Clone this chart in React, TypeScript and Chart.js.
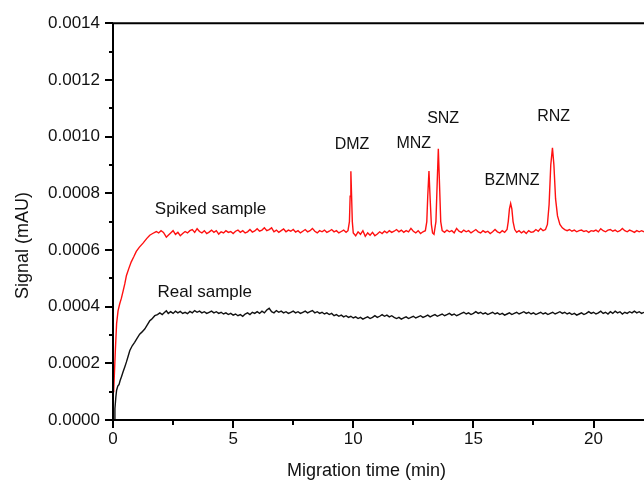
import { useEffect, useRef } from 'react';
import { Chart, registerables } from 'chart.js';

Chart.register(...registerables);

const FONT = '"Liberation Sans", Arial, Helvetica, sans-serif';

const xAxisTitle = 'Migration time (min)';
const yAxisTitle = 'Signal (mAU)';
const xMin = 0;
const xMax = 22.1;
const xStep = 5;
const yMin = 0;
const yMax = 0.0014;
const yStep = 0.0002;

// [migration time (min), signal (mAU)]
const spikedSample: [number, number][] = [
  [0.0, 100e-6], [0.03, 105e-6], [0.1, 250e-6], [0.15, 340e-6], [0.21, 385e-6], [0.28, 410e-6],
  [0.35, 430e-6], [0.42, 455e-6], [0.49, 480e-6], [0.56, 510e-6], [0.66, 535e-6], [0.76, 558e-6],
  [0.86, 575e-6], [0.97, 595e-6], [1.1, 610e-6], [1.25, 624e-6], [1.4, 640e-6], [1.53, 652e-6],
  [1.65, 658e-6], [1.8, 665e-6], [1.9, 660e-6], [2.0, 668e-6], [2.1, 662e-6], [2.22, 645e-6],
  [2.3, 652e-6], [2.4, 660e-6], [2.5, 668e-6], [2.6, 655e-6], [2.7, 662e-6], [2.8, 650e-6],
  [2.9, 658e-6], [3.0, 665e-6], [3.1, 660e-6], [3.2, 668e-6], [3.3, 672e-6], [3.4, 662e-6],
  [3.5, 675e-6], [3.6, 665e-6], [3.7, 660e-6], [3.8, 668e-6], [3.9, 658e-6], [4.0, 663e-6],
  [4.1, 670e-6], [4.2, 662e-6], [4.3, 668e-6], [4.4, 656e-6], [4.5, 664e-6], [4.6, 660e-6],
  [4.7, 668e-6], [4.8, 662e-6], [4.9, 665e-6], [5.0, 658e-6], [5.1, 666e-6], [5.2, 670e-6],
  [5.3, 662e-6], [5.4, 668e-6], [5.5, 660e-6], [5.6, 664e-6], [5.7, 672e-6], [5.8, 663e-6],
  [5.9, 667e-6], [6.0, 675e-6], [6.1, 666e-6], [6.2, 670e-6], [6.3, 678e-6], [6.4, 668e-6],
  [6.5, 672e-6], [6.6, 678e-6], [6.7, 664e-6], [6.8, 670e-6], [6.9, 662e-6], [7.0, 668e-6],
  [7.1, 674e-6], [7.2, 664e-6], [7.3, 670e-6], [7.4, 666e-6], [7.5, 672e-6], [7.6, 663e-6],
  [7.7, 668e-6], [7.8, 660e-6], [7.9, 666e-6], [8.0, 672e-6], [8.1, 664e-6], [8.2, 668e-6],
  [8.3, 676e-6], [8.4, 666e-6], [8.5, 660e-6], [8.6, 668e-6], [8.7, 664e-6], [8.8, 670e-6],
  [8.9, 662e-6], [9.0, 666e-6], [9.1, 672e-6], [9.2, 664e-6], [9.3, 668e-6], [9.4, 660e-6],
  [9.5, 665e-6], [9.6, 670e-6], [9.7, 662e-6], [9.78, 668e-6],
  [9.84, 700e-6], [9.87, 790e-6], [9.9, 878e-6], [9.93, 790e-6], [9.96, 700e-6], [10.0, 660e-6],
  [10.1, 650e-6], [10.2, 664e-6], [10.3, 655e-6], [10.4, 668e-6], [10.5, 648e-6], [10.6, 660e-6],
  [10.7, 652e-6], [10.8, 662e-6], [10.9, 650e-6], [11.0, 656e-6], [11.1, 664e-6], [11.2, 658e-6],
  [11.3, 666e-6], [11.4, 660e-6], [11.5, 668e-6], [11.6, 662e-6], [11.7, 666e-6], [11.8, 672e-6],
  [11.9, 664e-6], [12.0, 670e-6], [12.1, 662e-6], [12.2, 668e-6], [12.3, 664e-6], [12.4, 676e-6],
  [12.5, 666e-6], [12.6, 660e-6], [12.7, 668e-6], [12.8, 658e-6], [12.9, 664e-6], [13.0, 668e-6],
  [13.06, 700e-6], [13.1, 790e-6], [13.15, 878e-6], [13.2, 780e-6], [13.25, 690e-6], [13.3, 660e-6],
  [13.36, 655e-6],
  [13.44, 700e-6], [13.49, 830e-6], [13.54, 957e-6], [13.59, 830e-6], [13.64, 700e-6], [13.7, 668e-6],
  [13.8, 662e-6], [13.9, 670e-6], [14.0, 664e-6], [14.1, 668e-6], [14.2, 660e-6], [14.3, 676e-6],
  [14.4, 666e-6], [14.5, 662e-6], [14.6, 670e-6], [14.7, 664e-6], [14.8, 668e-6], [14.9, 660e-6],
  [15.0, 666e-6], [15.1, 672e-6], [15.2, 664e-6], [15.3, 660e-6], [15.4, 668e-6], [15.5, 662e-6],
  [15.6, 666e-6], [15.7, 658e-6], [15.8, 664e-6], [15.9, 672e-6], [16.0, 664e-6], [16.1, 660e-6],
  [16.2, 668e-6], [16.3, 662e-6],
  [16.4, 672e-6], [16.45, 700e-6], [16.5, 745e-6], [16.55, 764e-6], [16.6, 745e-6], [16.65, 700e-6],
  [16.72, 672e-6], [16.8, 662e-6],
  [16.9, 668e-6], [17.0, 660e-6], [17.1, 666e-6], [17.2, 658e-6], [17.3, 668e-6], [17.4, 662e-6],
  [17.5, 664e-6], [17.6, 672e-6], [17.7, 666e-6], [17.8, 676e-6], [17.9, 668e-6], [18.0, 672e-6],
  [18.08, 690e-6], [18.15, 760e-6], [18.22, 900e-6], [18.29, 960e-6], [18.35, 900e-6], [18.42, 780e-6],
  [18.5, 720e-6], [18.6, 690e-6], [18.7, 678e-6], [18.8, 672e-6],
  [18.9, 668e-6], [19.0, 672e-6], [19.1, 666e-6], [19.2, 670e-6], [19.3, 664e-6], [19.4, 668e-6],
  [19.5, 670e-6], [19.6, 665e-6], [19.7, 668e-6], [19.8, 662e-6], [19.9, 668e-6], [20.0, 666e-6],
  [20.1, 670e-6], [20.2, 664e-6], [20.3, 675e-6], [20.4, 668e-6], [20.5, 664e-6], [20.6, 670e-6],
  [20.7, 672e-6], [20.8, 666e-6], [20.9, 670e-6], [21.0, 664e-6], [21.1, 668e-6], [21.2, 676e-6],
  [21.3, 668e-6], [21.4, 664e-6], [21.5, 670e-6], [21.6, 666e-6], [21.7, 662e-6], [21.8, 668e-6],
  [21.9, 664e-6], [22.0, 668e-6], [22.1, 664e-6], [22.2, 666e-6],
];

const realSample: [number, number][] = [
  [0.05, 0e-6], [0.08, 40e-6], [0.12, 82e-6], [0.15, 105e-6], [0.2, 120e-6], [0.25, 125e-6],
  [0.3, 140e-6], [0.35, 152e-6], [0.42, 170e-6], [0.49, 187e-6], [0.56, 205e-6], [0.63, 225e-6],
  [0.7, 245e-6], [0.8, 262e-6], [0.9, 274e-6], [1.0, 288e-6], [1.11, 303e-6], [1.2, 310e-6],
  [1.32, 321e-6], [1.42, 335e-6], [1.53, 350e-6], [1.6, 355e-6], [1.74, 368e-6], [1.85, 372e-6],
  [1.95, 378e-6], [2.05, 372e-6], [2.15, 380e-6], [2.22, 385e-6], [2.3, 376e-6], [2.4, 382e-6],
  [2.5, 376e-6], [2.6, 384e-6], [2.7, 378e-6], [2.8, 383e-6], [2.9, 376e-6], [3.0, 380e-6],
  [3.1, 375e-6], [3.2, 383e-6], [3.3, 378e-6], [3.4, 386e-6], [3.5, 380e-6], [3.6, 384e-6],
  [3.7, 378e-6], [3.8, 382e-6], [3.9, 376e-6], [4.0, 380e-6], [4.1, 384e-6], [4.2, 378e-6],
  [4.3, 382e-6], [4.4, 376e-6], [4.5, 380e-6], [4.6, 374e-6], [4.7, 378e-6], [4.8, 372e-6],
  [4.9, 376e-6], [5.0, 370e-6], [5.1, 374e-6], [5.2, 368e-6], [5.3, 372e-6], [5.4, 366e-6],
  [5.5, 374e-6], [5.6, 378e-6], [5.7, 372e-6], [5.8, 380e-6], [5.9, 376e-6], [6.0, 382e-6],
  [6.1, 376e-6], [6.2, 384e-6], [6.3, 378e-6], [6.4, 388e-6], [6.5, 394e-6], [6.6, 382e-6],
  [6.7, 378e-6], [6.8, 386e-6], [6.9, 380e-6], [7.0, 384e-6], [7.1, 378e-6], [7.2, 382e-6],
  [7.3, 376e-6], [7.4, 380e-6], [7.5, 384e-6], [7.6, 378e-6], [7.7, 382e-6], [7.8, 376e-6],
  [7.9, 380e-6], [8.0, 384e-6], [8.1, 378e-6], [8.2, 382e-6], [8.3, 386e-6], [8.4, 378e-6],
  [8.5, 382e-6], [8.6, 376e-6], [8.7, 380e-6], [8.8, 374e-6], [8.9, 378e-6], [9.0, 372e-6],
  [9.1, 376e-6], [9.2, 368e-6], [9.3, 372e-6], [9.4, 366e-6], [9.5, 370e-6], [9.6, 364e-6],
  [9.7, 368e-6], [9.8, 362e-6], [9.9, 366e-6], [10.0, 360e-6], [10.1, 364e-6], [10.2, 358e-6],
  [10.3, 362e-6], [10.4, 356e-6], [10.5, 360e-6], [10.6, 364e-6], [10.7, 358e-6], [10.8, 362e-6],
  [10.9, 368e-6], [11.0, 362e-6], [11.1, 366e-6], [11.2, 372e-6], [11.3, 366e-6], [11.4, 370e-6],
  [11.5, 364e-6], [11.6, 368e-6], [11.7, 362e-6], [11.8, 358e-6], [11.9, 362e-6], [12.0, 356e-6],
  [12.1, 360e-6], [12.2, 364e-6], [12.3, 358e-6], [12.4, 362e-6], [12.5, 366e-6], [12.6, 360e-6],
  [12.7, 364e-6], [12.8, 368e-6], [12.9, 362e-6], [13.0, 366e-6], [13.1, 370e-6], [13.2, 364e-6],
  [13.3, 368e-6], [13.4, 372e-6], [13.5, 366e-6], [13.6, 370e-6], [13.7, 374e-6], [13.8, 368e-6],
  [13.9, 372e-6], [14.0, 376e-6], [14.1, 370e-6], [14.2, 374e-6], [14.3, 368e-6], [14.4, 372e-6],
  [14.5, 376e-6], [14.6, 380e-6], [14.7, 374e-6], [14.8, 378e-6], [14.9, 372e-6], [15.0, 376e-6],
  [15.1, 382e-6], [15.2, 376e-6], [15.3, 380e-6], [15.4, 374e-6], [15.5, 378e-6], [15.6, 372e-6],
  [15.7, 376e-6], [15.8, 380e-6], [15.9, 374e-6], [16.0, 378e-6], [16.1, 372e-6], [16.2, 376e-6],
  [16.3, 370e-6], [16.4, 374e-6], [16.5, 378e-6], [16.6, 372e-6], [16.7, 376e-6], [16.8, 380e-6],
  [16.9, 374e-6], [17.0, 378e-6], [17.1, 382e-6], [17.2, 376e-6], [17.3, 380e-6], [17.4, 374e-6],
  [17.5, 378e-6], [17.6, 372e-6], [17.7, 376e-6], [17.8, 380e-6], [17.9, 374e-6], [18.0, 378e-6],
  [18.1, 372e-6], [18.2, 376e-6], [18.3, 380e-6], [18.4, 374e-6], [18.5, 378e-6], [18.6, 382e-6],
  [18.7, 376e-6], [18.8, 380e-6], [18.9, 374e-6], [19.0, 378e-6], [19.1, 372e-6], [19.2, 376e-6],
  [19.3, 370e-6], [19.4, 374e-6], [19.5, 378e-6], [19.6, 372e-6], [19.7, 376e-6], [19.8, 382e-6],
  [19.9, 376e-6], [20.0, 380e-6], [20.1, 374e-6], [20.2, 378e-6], [20.3, 384e-6], [20.4, 376e-6],
  [20.5, 380e-6], [20.6, 374e-6], [20.7, 382e-6], [20.8, 376e-6], [20.9, 384e-6], [21.0, 378e-6],
  [21.1, 382e-6], [21.2, 374e-6], [21.3, 380e-6], [21.4, 376e-6], [21.5, 382e-6], [21.6, 378e-6],
  [21.7, 384e-6], [21.8, 378e-6], [21.9, 382e-6], [22.0, 376e-6], [22.1, 380e-6], [22.2, 378e-6],
];

// text labels anchored in data coordinates: [text, time, signal, font size]
const textLabels: [string, number, number, number][] = [
  ['Spiked sample', 4.06, 742e-6, 17],
  ['Real sample', 3.82, 449e-6, 17],
  ['DMZ', 9.95, 971e-6, 16],
  ['MNZ', 12.52, 974e-6, 16],
  ['SNZ', 13.74, 1062e-6, 16],
  ['BZMNZ', 16.61, 844e-6, 16],
  ['RNZ', 18.34, 1071e-6, 16],
];

const framePlugin = {
  id: 'framePlugin',
  afterDraw(chart: any) {
    const { ctx, chartArea: a, scales } = chart;
    const xs = scales.x;
    const ys = scales.y;
    ctx.save();
    ctx.strokeStyle = '#000';
    ctx.lineWidth = 2;
    ctx.lineCap = 'square';
    ctx.beginPath();
    ctx.moveTo(a.left, a.top);
    ctx.lineTo(a.right, a.top);
    ctx.moveTo(a.left, a.top);
    ctx.lineTo(a.left, a.bottom);
    ctx.moveTo(a.left, a.bottom);
    ctx.lineTo(a.right, a.bottom);
    ctx.stroke();

    ctx.lineCap = 'butt';
    ctx.beginPath();
    const yMaj = ys.ticks.map((t: any) => t.value);
    yMaj.forEach((v: number, i: number) => {
      const p = Math.round(ys.getPixelForValue(v));
      ctx.moveTo(a.left - 8, p);
      ctx.lineTo(a.left, p);
      if (i < yMaj.length - 1) {
        const m = Math.round(ys.getPixelForValue((v + yMaj[i + 1]) / 2));
        ctx.moveTo(a.left - 4, m);
        ctx.lineTo(a.left, m);
      }
    });
    const xMaj = xs.ticks.map((t: any) => t.value);
    xMaj.forEach((v: number, i: number) => {
      const p = Math.round(xs.getPixelForValue(v));
      ctx.moveTo(p, a.bottom);
      ctx.lineTo(p, a.bottom + 8);
      const mid = i < xMaj.length - 1 ? (v + xMaj[i + 1]) / 2 : v + xStep / 2;
      if (mid <= xs.max) {
        const m = Math.round(xs.getPixelForValue(mid));
        ctx.moveTo(m, a.bottom);
        ctx.lineTo(m, a.bottom + 5);
      }
    });
    ctx.stroke();

    ctx.fillStyle = '#111';
    ctx.textAlign = 'center';
    ctx.textBaseline = 'middle';
    textLabels.forEach(([text, t, s, size]) => {
      ctx.font = `${size}px ${FONT}`;
      ctx.fillText(text, xs.getPixelForValue(t), ys.getPixelForValue(s));
    });

    ctx.font = `18px ${FONT}`;
    ctx.fillText(xAxisTitle, (a.left + 620) / 2, 471);
    ctx.translate(23, (a.top + a.bottom) / 2 + 24);
    ctx.rotate(-Math.PI / 2);
    ctx.fillText(yAxisTitle, 0, 0);
    ctx.restore();
  },
};

export default function App() {
  const canvasRef = useRef<HTMLCanvasElement | null>(null);

  useEffect(() => {
    const canvas = canvasRef.current;
    if (!canvas) return;
    const chart = new Chart(canvas, {
      type: 'line',
      data: {
        datasets: [
          {
            label: 'Spiked sample',
            data: spikedSample.map(([x, y]) => ({ x, y })),
            borderColor: '#ff1010',
            borderWidth: 1.4,
            pointRadius: 0,
            tension: 0,
            fill: false,
          },
          {
            label: 'Real sample',
            data: realSample.map(([x, y]) => ({ x, y })),
            borderColor: '#111111',
            borderWidth: 1.4,
            pointRadius: 0,
            tension: 0,
            fill: false,
          },
        ],
      },
      options: {
        animation: false,
        responsive: false,
        maintainAspectRatio: false,
        parsing: false,
        layout: { padding: { left: 0, top: 20, right: 0, bottom: 0 } },
        plugins: {
          legend: { display: false },
          tooltip: { enabled: false },
          title: { display: false },
        },
        scales: {
          x: {
            type: 'linear',
            min: xMin,
            max: xMax,
            grid: { display: false, drawTicks: false },
            border: { display: false },
            ticks: {
              stepSize: xStep,
              includeBounds: false,
              padding: 9,
              color: '#111',
              font: { family: FONT, size: 17 },
              maxRotation: 0,
              callback: (v: any) => String(v),
            },
            afterFit: (s: any) => {
              s.height = 62;
            },
          },
          y: {
            type: 'linear',
            min: yMin,
            max: yMax,
            grid: { display: false, drawTicks: false },
            border: { display: false },
            ticks: {
              stepSize: yStep,
              padding: 13,
              color: '#111',
              font: { family: FONT, size: 17 },
              callback: (v: any) => Number(v).toFixed(4),
            },
            afterFit: (s: any) => {
              s.width = 113;
            },
          },
        },
      },
      plugins: [framePlugin],
    });
    return () => chart.destroy();
  }, []);

  return (
    <div style={{ position: 'absolute', left: 0, top: 0, width: 644, height: 482, background: '#fff' }}>
      <canvas ref={canvasRef} width={644} height={482} style={{ display: 'block' }} />
    </div>
  );
}
